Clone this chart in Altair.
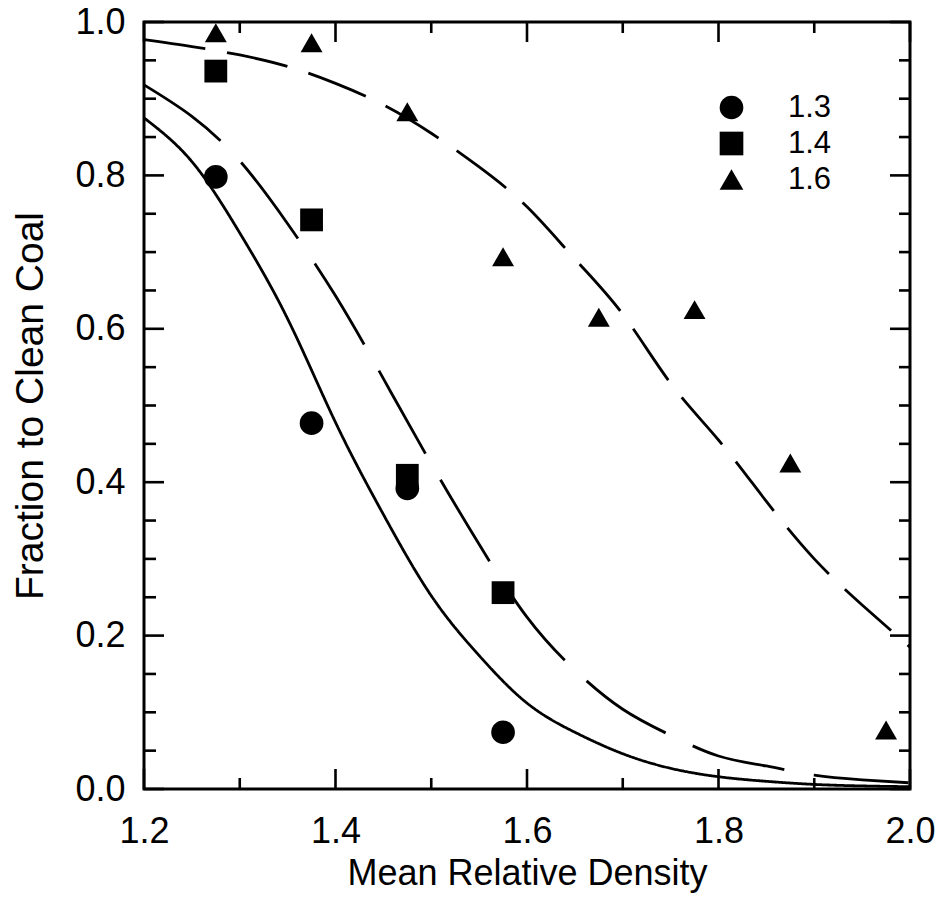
import altair as alt
import pandas as pd

# ---- data ----
series = ["1.3", "1.4", "1.6"]

# fitted curves (x grid and fraction values)
curve_x = [1.20, 1.25, 1.30, 1.35, 1.40, 1.45, 1.50, 1.55, 1.60,
           1.65, 1.70, 1.75, 1.80, 1.85, 1.90, 1.95, 2.00]
curve_13 = [0.875, 0.818, 0.725, 0.613, 0.478, 0.358, 0.252, 0.174, 0.112,
            0.074, 0.046, 0.027, 0.016, 0.010, 0.006, 0.004, 0.003]
curve_14 = [0.918, 0.877, 0.819, 0.737, 0.643, 0.535, 0.424, 0.319, 0.224,
            0.155, 0.104, 0.070, 0.043, 0.030, 0.018, 0.012, 0.008]
curve_16 = [0.977, 0.968, 0.957, 0.942, 0.920, 0.892, 0.855, 0.811, 0.759,
            0.691, 0.619, 0.529, 0.455, 0.375, 0.300, 0.240, 0.185]

# measured points
pts_x_13 = [1.275, 1.375, 1.475, 1.575]
pts_y_13 = [0.798, 0.477, 0.392, 0.074]
pts_x_14 = [1.275, 1.375, 1.475, 1.575]
pts_y_14 = [0.936, 0.742, 0.409, 0.256]
pts_x_16 = [1.275, 1.375, 1.475, 1.575, 1.675, 1.775, 1.875, 1.975]
pts_y_16 = [0.986, 0.973, 0.883, 0.694, 0.615, 0.625, 0.425, 0.077]

# axis ticks
x_major = [1.2, 1.4, 1.6, 1.8, 2.0]
x_minor = [1.3, 1.5, 1.7, 1.9]
y_major = [0.0, 0.2, 0.4, 0.6, 0.8, 1.0]
y_minor = [0.05, 0.10, 0.15, 0.25, 0.30, 0.35, 0.45, 0.50, 0.55,
           0.65, 0.70, 0.75, 0.85, 0.90, 0.95]

# ---- tables ----
lines_df = pd.DataFrame({
    "x": curve_x * 3,
    "y": curve_13 + curve_14 + curve_16,
    "series": ["1.3"] * len(curve_x) + ["1.4"] * len(curve_x) + ["1.6"] * len(curve_x),
})
points_df = pd.DataFrame({
    "x": pts_x_13 + pts_x_14 + pts_x_16,
    "y": pts_y_13 + pts_y_14 + pts_y_16,
    "series": ["1.3"] * len(pts_x_13) + ["1.4"] * len(pts_x_14) + ["1.6"] * len(pts_x_16),
})

W, H = 766, 767
FONT = "Liberation Sans"
xs = alt.Scale(domain=[1.2, 2.0], nice=False, zero=False)
ys = alt.Scale(domain=[0, 1], nice=False, zero=False)

x_axis = alt.Axis(values=x_major, format=".1f", ticks=False, tickSize=0, domain=False,
                  grid=False, labelFontSize=36, labelFont=FONT, labelColor="black",
                  labelPadding=25, labelFlush=False, labelOverlap=False,
                  title="Mean Relative Density", titleFont=FONT, titleFontSize=36,
                  titleFontWeight="normal", titleColor="black", titleY=95,
                  titleBaseline="alphabetic")
y_axis = alt.Axis(values=y_major, format=".1f", ticks=False, tickSize=0, domain=False,
                  grid=False, labelFontSize=36, labelFont=FONT, labelColor="black",
                  labelPadding=19, labelFlush=False, labelOverlap=False,
                  title="Fraction to Clean Coal", titleFont=FONT, titleFontSize=39,
                  titleFontWeight="normal", titleColor="black", titleX=-102,
                  titleAngle=270, titleBaseline="alphabetic")

X = alt.X("x:Q", scale=xs, axis=x_axis, title="Mean Relative Density")
Y = alt.Y("y:Q", scale=ys, axis=y_axis, title="Fraction to Clean Coal")

lines = alt.Chart(lines_df).mark_line(color="black", strokeWidth=2.8,
                                      interpolate="natural").encode(
    x=X, y=Y,
    detail="series:N",
    strokeDash=alt.StrokeDash("series:N",
                              scale=alt.Scale(range=[[1, 0], [95, 30], [62, 22]]),
                              legend=None),
)

points = alt.Chart(points_df).transform_calculate(
    grp="datum.series"
).mark_point(filled=True, color="black", opacity=1).encode(
    x=X, y=Y,
    shape=alt.Shape("series:N",
                    scale=alt.Scale(domain=series, range=["circle", "square", "triangle-up"]),
                    legend=alt.Legend(title=None, orient="none", legendX=572, legendY=70,
                                      symbolSize=560, symbolFillColor="black",
                                      symbolStrokeColor="black",
                                      symbolStrokeWidth=0, symbolOpacity=1,
                                      labelFontSize=31, labelFont=FONT, labelColor="black",
                                      labelOffset=41, rowPadding=4, padding=0)),
    size=alt.Size("grp:N", scale=alt.Scale(range=[560, 480, 680]), legend=None),
)

def xt(vals):
    return pd.DataFrame({"x": vals})

def yt(vals):
    return pd.DataFrame({"y": vals})

tick_style = dict(color="black", strokeWidth=2.6)
bottom_major = alt.Chart(xt(x_major)).mark_rule(**tick_style).encode(
    x=X, y=alt.value(H), y2=alt.value(H - 20))
bottom_minor = alt.Chart(xt(x_minor)).mark_rule(**tick_style).encode(
    x=X, y=alt.value(H), y2=alt.value(H - 11))
top_major = alt.Chart(xt(x_major)).mark_rule(**tick_style).encode(
    x=X, y=alt.value(0), y2=alt.value(20))
top_minor = alt.Chart(xt(x_minor)).mark_rule(**tick_style).encode(
    x=X, y=alt.value(0), y2=alt.value(11))
left_major = alt.Chart(yt(y_major)).mark_rule(**tick_style).encode(
    y=Y, x=alt.value(0), x2=alt.value(20))
left_minor = alt.Chart(yt(y_minor)).mark_rule(**tick_style).encode(
    y=Y, x=alt.value(0), x2=alt.value(12))
right_major = alt.Chart(yt(y_major)).mark_rule(**tick_style).encode(
    y=Y, x=alt.value(W), x2=alt.value(W - 20))
right_minor = alt.Chart(yt(y_minor)).mark_rule(**tick_style).encode(
    y=Y, x=alt.value(W), x2=alt.value(W - 11))

chart = alt.layer(
    lines, points,
    bottom_major, bottom_minor, top_major, top_minor,
    left_major, left_minor, right_major, right_minor,
).properties(
    width=W, height=H,
    autosize=alt.AutoSizeParams(type="none"),
    padding={"left": 144, "top": 22, "right": 31, "bottom": 130},
    background="white",
).configure_view(
    stroke="black", strokeWidth=3
).configure_legend(
    labelFont=FONT, labelFontSize=31, labelColor="black"
)

chart.save("out.html", embed_options={"renderer": "svg", "actions": False})
